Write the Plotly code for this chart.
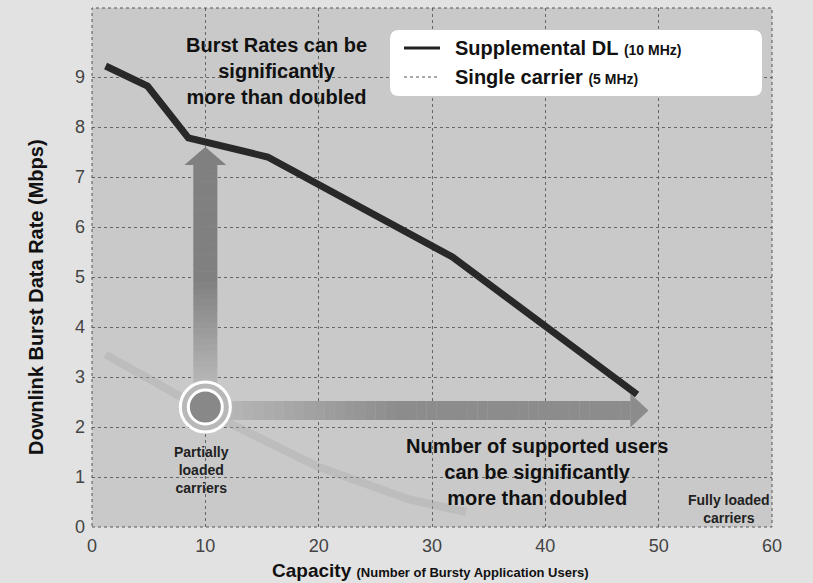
import plotly.graph_objects as go

# ---- data ----
supp_x = [1.2, 4.9, 8.5, 15.5, 31.8, 48.1]
supp_y = [9.22, 8.82, 7.78, 7.4, 5.4, 2.65]
single_x = [1.2, 6, 11, 20, 28, 33]
single_y = [3.45, 2.85, 2.2, 1.2, 0.55, 0.3]
x_ticks = [0, 10, 20, 30, 40, 50, 60]
y_ticks = [0, 1, 2, 3, 4, 5, 6, 7, 8, 9]

FONT = "Liberation Sans, Arial, sans-serif"

fig = go.Figure()
fig.add_trace(go.Scatter(x=single_x, y=single_y, mode="lines",
                         line=dict(color="rgba(165,165,165,0.35)", width=8),
                         showlegend=False, hoverinfo="skip"))
fig.add_trace(go.Scatter(x=supp_x, y=supp_y, mode="lines",
                         line=dict(color="#282828", width=7),
                         showlegend=False))

shapes = []
# vertical arrow (gradient shaft)
vx, vhw, hhw = 10.0, 1.06, 1.85
v_bot, v_base, v_tip = 2.75, 7.24, 7.6
n = 40
for i in range(n):
    y0 = v_bot + (v_base - v_bot) * i / n
    y1 = v_bot + (v_base - v_bot) * (i + 1) / n + 0.01
    t = min(1.0, (i + 1) / (n * 0.5))
    g = int(188 - (188 - 128) * t)
    shapes.append(dict(type="rect", xref="x", yref="y", x0=vx - vhw, x1=vx + vhw,
                       y0=y0, y1=y1, fillcolor=f"rgb({g},{g},{g})", line_width=0,
                       layer="between"))
shapes.append(dict(type="path", xref="x", yref="y", layer="between",
                   path=f"M {vx-hhw},{v_base} L {vx+hhw},{v_base} L {vx},{v_tip} Z",
                   fillcolor="rgb(128,128,128)", line_width=0))
# horizontal arrow
hy, hshw, hhh = 2.33, 0.19, 0.34
h_left, h_base, h_tip = 11.5, 47.5, 49.1
for i in range(n):
    x0 = h_left + (h_base - h_left) * i / n
    x1 = h_left + (h_base - h_left) * (i + 1) / n + 0.02
    t = min(1.0, (i + 1) / (n * 0.45))
    g = int(185 - (185 - 140) * t)
    shapes.append(dict(type="rect", xref="x", yref="y", x0=x0, x1=x1,
                       y0=hy - hshw, y1=hy + hshw, fillcolor=f"rgb({g},{g},{g})",
                       line_width=0, layer="between"))
shapes.append(dict(type="path", xref="x", yref="y", layer="between",
                   path=f"M {h_base},{hy-hhh} L {h_base},{hy+hhh} L {h_tip},{hy} Z",
                   fillcolor="rgb(140,140,140)", line_width=0))
# circle marker
for r, fill, lw in [(25, "#b8b8b8", 3), (17, "#888888", 3)]:
    shapes.append(dict(type="circle", xref="x", yref="y", xsizemode="pixel",
                       ysizemode="pixel", xanchor=10.0, yanchor=2.4,
                       x0=-r, x1=r, y0=-r, y1=r, fillcolor=fill,
                       line=dict(color="white", width=lw), layer="above"))


def px(xp):
    return (xp - 92) / 680


def py(yp):
    return (527 - yp) / 519


def rounded_rect(xl, xr, yt, yb, r=9):
    rx, ry = r / 680, r / 519
    x0, x1, y0, y1 = px(xl), px(xr), py(yb), py(yt)
    return (f"M {x0+rx},{y0} L {x1-rx},{y0} Q {x1},{y0} {x1},{y0+ry} "
            f"L {x1},{y1-ry} Q {x1},{y1} {x1-rx},{y1} L {x0+rx},{y1} "
            f"Q {x0},{y1} {x0},{y1-ry} L {x0},{y0+ry} Q {x0},{y0} {x0+rx},{y0} Z")


# plot border dotted
shapes.append(dict(type="rect", xref="paper", yref="paper", x0=0, x1=1, y0=0, y1=1,
                   line=dict(color="#555", width=1, dash="dot"), layer="above"))
# legend box
shapes.append(dict(type="path", xref="paper", yref="paper",
                   path=rounded_rect(390, 762, 30, 96),
                   fillcolor="white", line_width=0, layer="above"))
shapes.append(dict(type="line", xref="paper", yref="paper",
                   x0=px(404), x1=px(440), y0=py(48), y1=py(48),
                   line=dict(color="#222", width=3), layer="above"))
shapes.append(dict(type="line", xref="paper", yref="paper",
                   x0=px(404), x1=px(440), y0=py(77), y1=py(77),
                   line=dict(color="#aaa", width=2, dash="dot"), layer="above"))

ann = []


def txt(x, y, s, size, color="#111", xanchor="center", angle=0):
    ann.append(dict(x=x, y=y, xref="paper", yref="paper", text=s, showarrow=False,
                    xanchor=xanchor, yanchor="middle", textangle=angle, align="center",
                    font=dict(family=FONT, size=size, color=color)))


txt(px(276), py(71), "<b>Burst Rates can be<br>significantly<br>more than doubled</b>", 20)
txt(px(453), py(48), "<b>Supplemental DL</b> <b><span style='font-size:14px'>(10 MHz)</span></b>", 20, xanchor="left")
txt(px(453), py(77), "<b>Single carrier</b> <b><span style='font-size:14px'>(5 MHz)</span></b>", 20, xanchor="left")
txt(px(201), py(470), "<b>Partially<br>loaded<br>carriers</b>", 14, color="#222")
txt(px(537), py(472), "<b>Number of supported users<br>can be significantly<br>more than doubled</b>", 20)
txt(px(729), py(509), "<b>Fully loaded<br>carriers</b>", 14, color="#222")
txt(px(36), py(297), "<b>Downlink Burst Data Rate (Mbps)</b>", 20, angle=-90)
txt(px(430), py(571), "<b>Capacity</b> <b><span style='font-size:13px'>(Number of Bursty Application Users)</span></b>", 19)

fig.update_layout(
    width=813, height=583,
    margin=dict(l=92, r=41, t=8, b=56, autoexpand=False),
    paper_bgcolor="#e2e2e2", plot_bgcolor="#c9c9c9",
    font=dict(family=FONT, size=17, color="#444"),
    showlegend=False,
    shapes=shapes, annotations=ann,
    xaxis=dict(range=[0, 60], tickvals=x_ticks, showgrid=True, gridcolor="#666",
               griddash="dot", gridwidth=1, zeroline=False, ticks="", automargin=False,
               tickfont=dict(size=18, color="#444"), ticklabelstandoff=6),
    yaxis=dict(range=[0, 10.38], tickvals=y_ticks, showgrid=True, gridcolor="#666",
               griddash="dot", gridwidth=1, zeroline=False, ticks="", automargin=False,
               tickfont=dict(size=18, color="#444"), ticklabelstandoff=6),
)
fig.write_html("out.html", config={"displayModeBar": False},
               post_script="document.body.style.margin='0';")
